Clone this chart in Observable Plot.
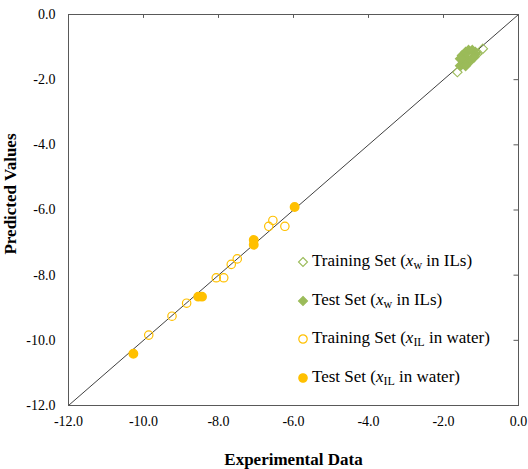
<!DOCTYPE html>
<html>
<head>
<meta charset="utf-8">
<script src="https://cdn.jsdelivr.net/npm/d3@7"></script>
<script src="https://cdn.jsdelivr.net/npm/@observablehq/plot@0.6"></script>
<style>
  body { margin: 0; background: #fff; }
  #wrap { position: relative; width: 528px; height: 469px; font-family: "Liberation Serif", "Times New Roman", serif; }
  #legend { position: absolute; left: 297px; top: 249px; font-size: 17px; color: #000; }
  #legend .row { height: 38.5px; display: flex; align-items: flex-start; white-space: nowrap; line-height: 24px; }
  #legend svg { margin-right: 3px; margin-top: 7px; }
  #legend sub { font-size: 12px; vertical-align: -3px; line-height: 0; }
</style>
</head>
<body>
<div id="wrap"></div>
<script>
// Axis ticks
const xTicks = [-12, -10, -8, -6, -4, -2, 0];
const yTicks = [-12, -10, -8, -6, -4, -2, 0];
const xTitle = "Experimental Data";
const yTitle = "Predicted Values";

// Training set (x_w in ILs): [experimental, predicted]
const trainW = [[-0.95, -1.05], [-1.10, -1.21], [-1.63, -1.77], [-1.15, -1.15]];
// Test set (x_w in ILs)
const testW = [[-1.50, -1.26], [-1.41, -1.16], [-1.33, -1.10], [-1.23, -1.10], [-1.15, -1.21],
  [-1.46, -1.46], [-1.37, -1.36], [-1.28, -1.41], [-1.55, -1.57], [-1.41, -1.57],
  [-1.19, -1.31], [-1.55, -1.36]];
// Training set (x_IL in water)
const trainIL = [[-6.55, -6.32], [-6.66, -6.50], [-6.23, -6.50], [-7.50, -7.50], [-7.66, -7.67],
  [-8.06, -8.08], [-7.86, -8.08], [-8.85, -8.86], [-9.24, -9.26], [-9.86, -9.84]];
// Test set (x_IL in water)
const testIL = [[-5.97, -5.91], [-7.06, -6.92], [-7.06, -7.07], [-8.54, -8.66], [-8.44, -8.66], [-10.27, -10.41]];

const diagonal = [[-12, -12], [0, 0]];

const green = "#9BBB59", gold = "#FFC000";
const fmt = d => d.toFixed(1);

const chart = Plot.plot({
  width: 528, height: 469,
  marginLeft: 68, marginRight: 10, marginTop: 14, marginBottom: 64,
  x: { domain: [-12, 0] },
  y: { domain: [-12, 0] },
  style: { fontFamily: "'Liberation Serif', 'Times New Roman', serif", fontSize: "14px", color: "#000", background: "#fff", overflow: "visible" },
  marks: [
    Plot.line(diagonal, { x: d => d[0], y: d => d[1], stroke: "#404040", strokeWidth: 1 }),
    Plot.ruleX(xTicks.slice(1, -1), { x: d => d, y1: 0, y2: -0.12, stroke: "#595959" }),
    Plot.ruleY(yTicks.slice(1, -1), { y: d => d, x1: 0, x2: -0.12, stroke: "#595959" }),
    Plot.axisX({ ticks: xTicks, tickFormat: fmt, tickSize: 0, tickPadding: 11, label: null, fill: "#000", fontSize: 14 }),
    Plot.axisY({ ticks: yTicks, tickFormat: fmt, tickSize: 0, tickPadding: 13, label: null, fill: "#000", fontSize: 14 }),
    Plot.axisX({ ticks: [], label: xTitle, labelAnchor: "center", labelArrow: "none", labelOffset: 59, fontWeight: "bold", fontSize: 17, fill: "#000" }),
    Plot.text([yTitle], { text: d => d, frameAnchor: "left", rotate: -90, dx: -58, dy: -16, fontWeight: "bold", fontSize: 17, fill: "#000", textAnchor: "middle" }),
    Plot.dot(trainIL, { x: d => d[0], y: d => d[1], r: 4.2, stroke: gold, strokeWidth: 1.2, fill: "none" }),
    Plot.dot(testIL, { x: d => d[0], y: d => d[1], r: 4.2, fill: gold, stroke: gold }),
    Plot.dot(trainW, { x: d => d[0], y: d => d[1], r: 4.2, symbol: "diamond2", stroke: green, strokeWidth: 1.1, fill: "none" }),
    Plot.dot(testW, { x: d => d[0], y: d => d[1], r: 4.2, symbol: "diamond2", fill: green, stroke: green }),
    Plot.frame({ stroke: "#595959", strokeWidth: 1 })
  ]
});

const wrap = document.getElementById("wrap");
wrap.appendChild(chart);

const legendItems = [
  { sym: "diamond", filled: false, color: green, html: 'Training Set (<i>x</i><sub>w</sub> in ILs)' },
  { sym: "diamond", filled: true, color: green, html: 'Test Set (<i>x</i><sub>w</sub> in ILs)' },
  { sym: "circle", filled: false, color: gold, html: 'Training Set (<i>x</i><sub>IL</sub> in water)' },
  { sym: "circle", filled: true, color: gold, html: 'Test Set (<i>x</i><sub>IL</sub> in water)' }
];
const legend = document.createElement("div");
legend.id = "legend";
for (const it of legendItems) {
  const row = document.createElement("div");
  row.className = "row";
  const shape = it.sym === "circle"
    ? `<circle cx="6" cy="6" r="4.2" fill="${it.filled ? it.color : "#fff"}" stroke="${it.color}" stroke-width="1.2"/>`
    : `<path d="M6,1.5L10.5,6L6,10.5L1.5,6Z" fill="${it.filled ? it.color : "#fff"}" stroke="${it.color}" stroke-width="1.1"/>`;
  row.innerHTML = `<svg width="12" height="12">${shape}</svg><span>${it.html}</span>`;
  legend.appendChild(row);
}
wrap.appendChild(legend);
</script>
</body>
</html>
